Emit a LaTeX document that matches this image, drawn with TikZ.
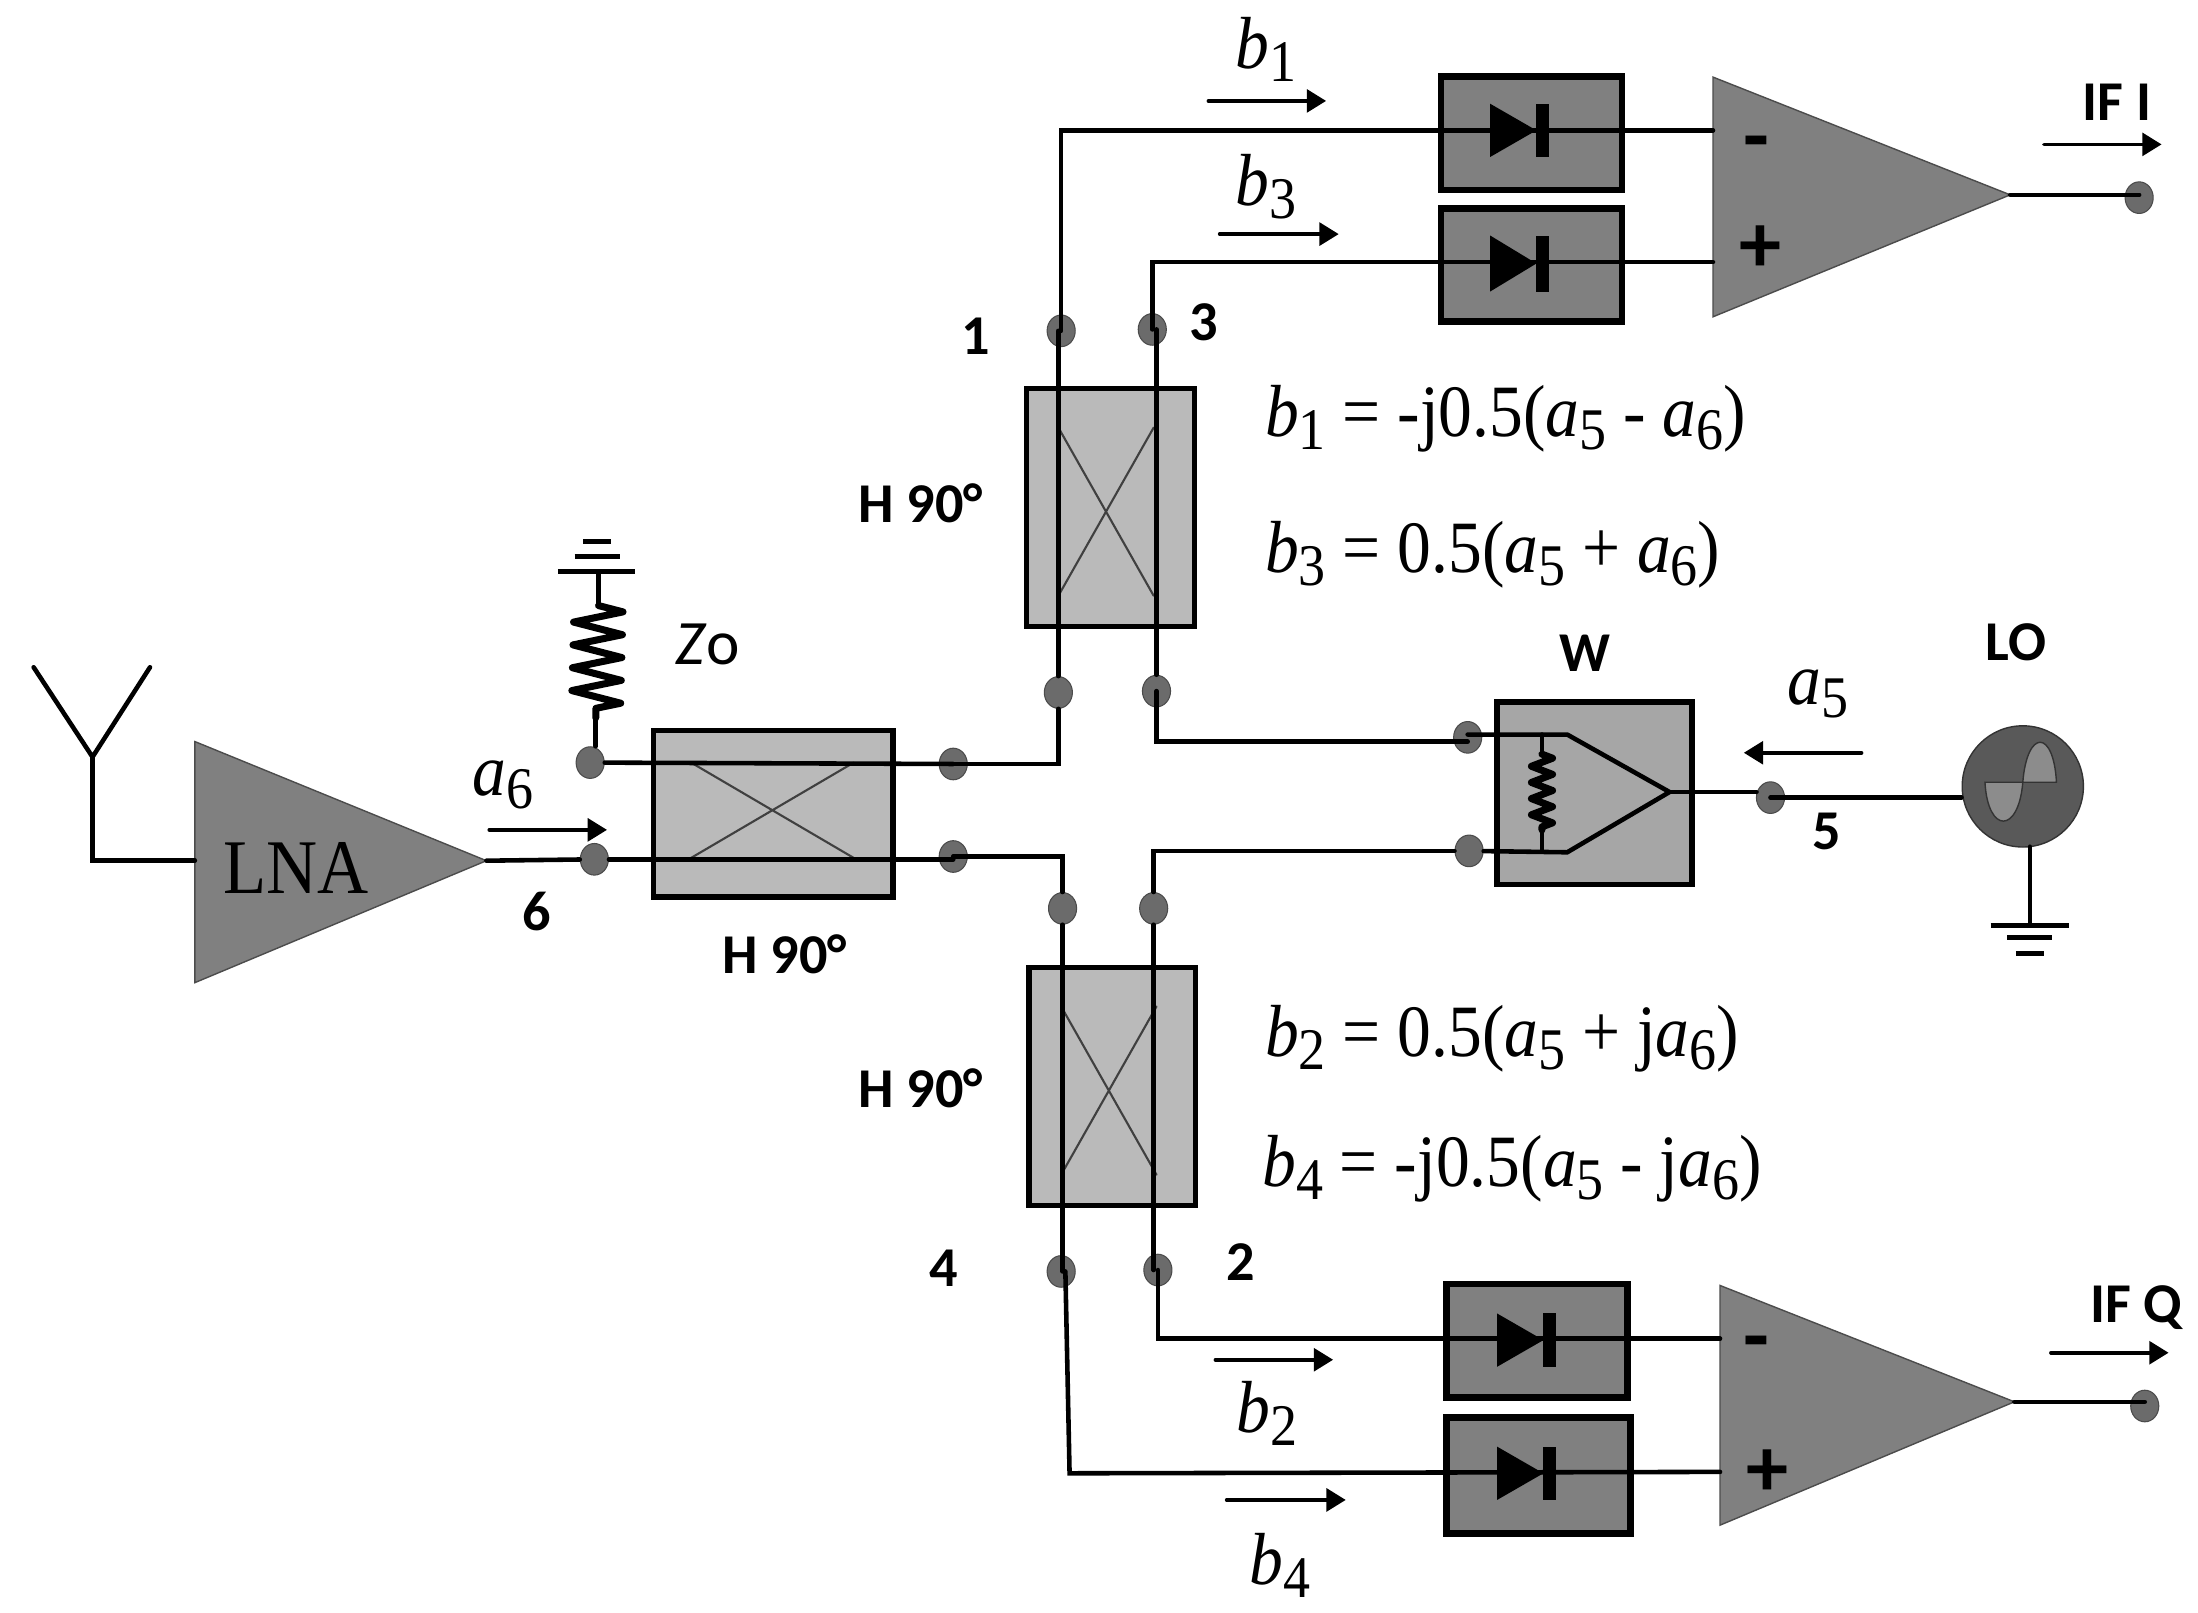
\documentclass[tikz,border=0pt]{standalone}
\usepackage{fontspec}
\setmainfont{Liberation Serif}
\newfontfamily\labelfont{Carlito}
\usetikzlibrary{arrows.meta,shapes.geometric,decorations.pathmorphing}
\newcommand{\sym}[2]{\textit{#1}\raisebox{-.38ex}{\scalebox{.8}{#2}}}
\newcommand{\narrow}[1]{\scalebox{.915}[1]{#1}}
\begin{document}
\begin{tikzpicture}
    [x=0.014018cm,y=-0.014018cm,line cap=round,
    % Styles
    wire/.style={line width=1.3pt},
    flow/.style={line width=1pt,-{Triangle[length=5.5pt,width=6.5pt]}},
    sized/.style 2 args={minimum width=#1*.39885pt,minimum height=#2*.39885pt,inner sep=0pt},
    diodebox/.style={draw,line width=1.9pt,fill=diodecolor,sized={129}{81}},
    hybrid/.style={draw,line width=1.5pt,fill=hybridcolor},
    port/.style={ellipse,draw=portcolor!70!black,line width=.3pt,fill=portcolor,inner sep=0pt,minimum width=8pt,minimum height=9pt},
    tag/.style={font=\labelfont\bfseries\fontsize{16}{16}\selectfont,inner sep=0pt},
    sign/.style={font=\labelfont\bfseries\fontsize{24}{24}\selectfont,inner sep=0pt},
    symbol/.style={font=\fontsize{21}{21}\selectfont,inner sep=0pt},
    equation/.style={font=\fontsize{21}{21}\selectfont,inner sep=0pt,anchor=west},
    cross line/.style={line width=.6pt,draw=black!75},
    earth/.style={line width=1.4pt,line cap=butt},
    coil/.style 2 args={line width=2pt,line join=round,decorate,decoration={zigzag,segment length=#1,amplitude=#2}}]
    % Colors
    \colorlet{diodecolor}{black!50}
    \colorlet{ampcolor}{black!50}
    \colorlet{hybridcolor}{black!27}
    \colorlet{splittercolor}{black!35}
    \colorlet{portcolor}{black!58}
    \colorlet{locolor}{black!65}
    \colorlet{lobecolor}{black!45}
    \useasboundingbox (0,0) rectangle (1568,1150);
    % Amplifiers
    \fill[ampcolor,draw=black!70,line width=.4pt] (139,529) -- (139,701) -- (347,614) coordinate (lna out) -- cycle;
    \coordinate (lna in) at (139,614);
    \node[font=\fontsize{22}{22}\selectfont,inner sep=0pt] (lna) at (211,619) {\narrow{LNA}};
    \fill[ampcolor,draw=black!70,line width=.4pt] (1222,55) -- (1222,226) -- (1434,139) coordinate (ifi out) -- cycle;
    \fill[ampcolor,draw=black!70,line width=.4pt] (1227,917) -- (1227,1088) -- (1437,1000) coordinate (ifq out) -- cycle;
    % Boxes
    \node[hybrid,sized={171}{119}] (hyb in) at (551.5,580.5) {};
    \node[hybrid,sized={120}{170}] (hyb top) at (792,362) {};
    \node[hybrid,sized={119}{170}] (hyb bot) at (793.5,775) {};
    \node[draw,line width=1.7pt,fill=splittercolor,sized={139}{130}] (split) at (1137.5,566) {};
    \node[diodebox] (d1) at (1092.5,95) {};
    \node[diodebox] (d3) at (1092.5,189) {};
    \node[diodebox] (d2) at (1096.5,956.5) {};
    \node[diodebox,sized={131}{83}] (d4) at (1097.5,1052.5) {};
    % Crossings
    \draw[cross line] (493,544) -- (609,612) (609,544) -- (493,612);
    \draw[cross line] (755,305) -- (823,425) (823,305) -- (755,425);
    \draw[cross line] (757,718) -- (825,838) (825,718) -- (757,838);
    % Ports
    \foreach \pname/\px/\py in {p1/757/236,p3/822/235,tl/755/494,tr/825/493,
      bl/758/648,br/823/648,p4/757/907,p2/826/906,z0/421/544,p6/424/613,
      hr1/680/545,hr2/680/611,sp1/1047/526,sp2/1048/607,p5/1263/569,
      ifi/1526/141,ifq/1530/1003}
      \node[port] (\pname) at (\px,\py) {};
    % The antenna and the input side
    \draw[wire] (24,476) -- (66,540) coordinate (ant) -- (107,476);
    \draw[wire] (ant) |- (lna in);
    \draw[wire] (lna out) -- (p6);
    \draw[wire] (p6) -- (p6 -| hr2);
    \draw[wire] (z0) -- (hr1.center);
    \draw[wire] (hr1.center) -| (tl);
    \draw[wire] (hr2.center) -| (bl);
    % Top branch
    \draw[wire] (tl) -- (tl |- p1);
    \draw[wire] (tr) -- (tr |- p3);
    \draw[wire] (tr.center) |- (1047,529);
    \draw[wire] (p1.center) |- (1222,93);
    \draw[wire] (p3.center) |- (1222,187);
    % Bottom branch
    \draw[wire] (sp2) -| (br);
    \draw[wire] (bl) -- (bl |- p4);
    \draw[wire] (br) -- (br |- p2);
    \draw[wire] (p2.center) |- (1227,955);
    \draw[wire] (760,907) -- (763,1051) coordinate (p4 turn) -- (1227,1050);
    % Outputs
    \draw[wire] (ifi out) -- (ifi.center |- ifi out);
    \draw[wire] (ifq out) -- (ifq.center |- ifq out);
    % Diodes
    \foreach \dx/\dy/\dh in {1063/93/19,1063/188/20,1068/956/19,1068/1051/19}{
      \fill (\dx,\dy-\dh) -- (\dx,\dy+\dh) -- (\dx+33,\dy) -- cycle;
      \fill (\dx+33,\dy-\dh) rectangle (\dx+42,\dy+\dh);
    }
    % Terminating load
    \coordinate (z0 top) at (427,408);
    \draw[wire] (z0 top) -- (427,432) coordinate (z0 a);
    \draw[coil={6.5pt}{7pt}] (z0 a) -- (425,512) coordinate (z0 b);
    \draw[wire] (z0 b) -- (z0.north -| z0 b);
    \draw[earth] (398,408) -- (453,408) (410,397) -- (442,397) (416,386) -- (436,386);
    % Splitter
    \draw[wire] (1047,524) -- (1118,524) -- (1191,565) coordinate (sp out) -- (1118,608) -- (sp2);
    \draw[wire] (sp out) -- (1253,565);
    \draw[wire] (1100,524) -- (1100,538) coordinate (w a);
    \draw[coil={4.6pt}{3pt}] (w a) -- (1100,592) coordinate (w b);
    \draw[wire] (w b) -- (1100,607);
    % Local oscillator
    \node[circle,draw=black!80,line width=.4pt,fill=locolor,minimum size=34.5pt,inner sep=0pt] (lo) at (1443,561) {};
    \filldraw[lobecolor,draw=black!80,line width=.4pt] (1416,558) .. controls (1418,595) and (1440,595) .. (1443,558) -- cycle;
    \filldraw[lobecolor,draw=black!80,line width=.4pt] (1443,558) .. controls (1446,520) and (1465,520) .. (1467,558) -- cycle;
    \draw[wire] (p5.center) -- (lo.west |- p5);
    \draw[wire] (1448,604) -- (1448,660) coordinate (lo gnd);
    \draw[earth] (1420,660) -- (1476,660) (1432,669) -- (1464,669) (1438,680) -- (1458,680);
    % Flow arrows
    \draw[flow] (862,72) -- (946,72);
    \draw[flow] (870,167) -- (955,167);
    \draw[flow] (1458,103) -- (1542,103);
    \draw[flow] (349,592) -- (433,592);
    \draw[flow] (1328,537) -- (1244,537);
    \draw[flow] (1463,965) -- (1547,965);
    \draw[flow] (867,970) -- (951,970);
    \draw[flow] (875,1070) -- (960,1070);
    % Tags
    \foreach \tname/\tx/\ty/\ttext in {t1/696/240/1,t3/859/230/3,t2/885/900/2,t4/673/905/4,
      t5/1303/593/5,t6/383/650/6,tw/1131/466/W,tlo/1438/458/LO,thtop/657/359/H 90°,
      thin/560/681/H 90°,thbot/657/776/H 90°,tifi/1510/73/IF I,tifq/1524/933/IF Q}
      \node[tag] (\tname) at (\tx,\ty) {\ttext};
    \foreach \tname/\tx/\ty/\ttext in {sign1/1253/107/-,sign2/1256/178/+,sign3/1253/963/-,sign4/1261/1051/+}
      \node[sign] (\tname) at (\tx,\ty) {\ttext};
    \node[font=\labelfont\fontsize{18}{18}\selectfont,inner sep=0pt] (zo) at (505,460) {\textit{Z}o};
    % Wave symbols
    \node[symbol] (b1) at (903,35) {\narrow{\sym{b}{1}}};
    \node[symbol] (b3) at (903,133) {\narrow{\sym{b}{3}}};
    \node[symbol] (b2) at (904,1008) {\narrow{\sym{b}{2}}};
    \node[symbol] (b4) at (913,1117) {\narrow{\sym{b}{4}}};
    \node[symbol] (a6) at (359,560) {\narrow{\sym{a}{6}}};
    \node[symbol] (a5) at (1297,495) {\narrow{\sym{a}{5}}};
    % Equations
    \node[equation] (eq1) at (902,299) {\narrow{\sym{b}{1} = -j0.5(\sym{a}{5} - \sym{a}{6})}};
    \node[equation] (eq3) at (902,396) {\narrow{\sym{b}{3} = 0.5(\sym{a}{5} + \sym{a}{6})}};
    \node[equation] (eq2) at (902,741) {\narrow{\sym{b}{2} = 0.5(\sym{a}{5} + j\sym{a}{6})}};
    \node[equation] (eq4) at (900,834) {\narrow{\sym{b}{4} = -j0.5(\sym{a}{5} - j\sym{a}{6})}};
  \end{tikzpicture}
\end{document}
